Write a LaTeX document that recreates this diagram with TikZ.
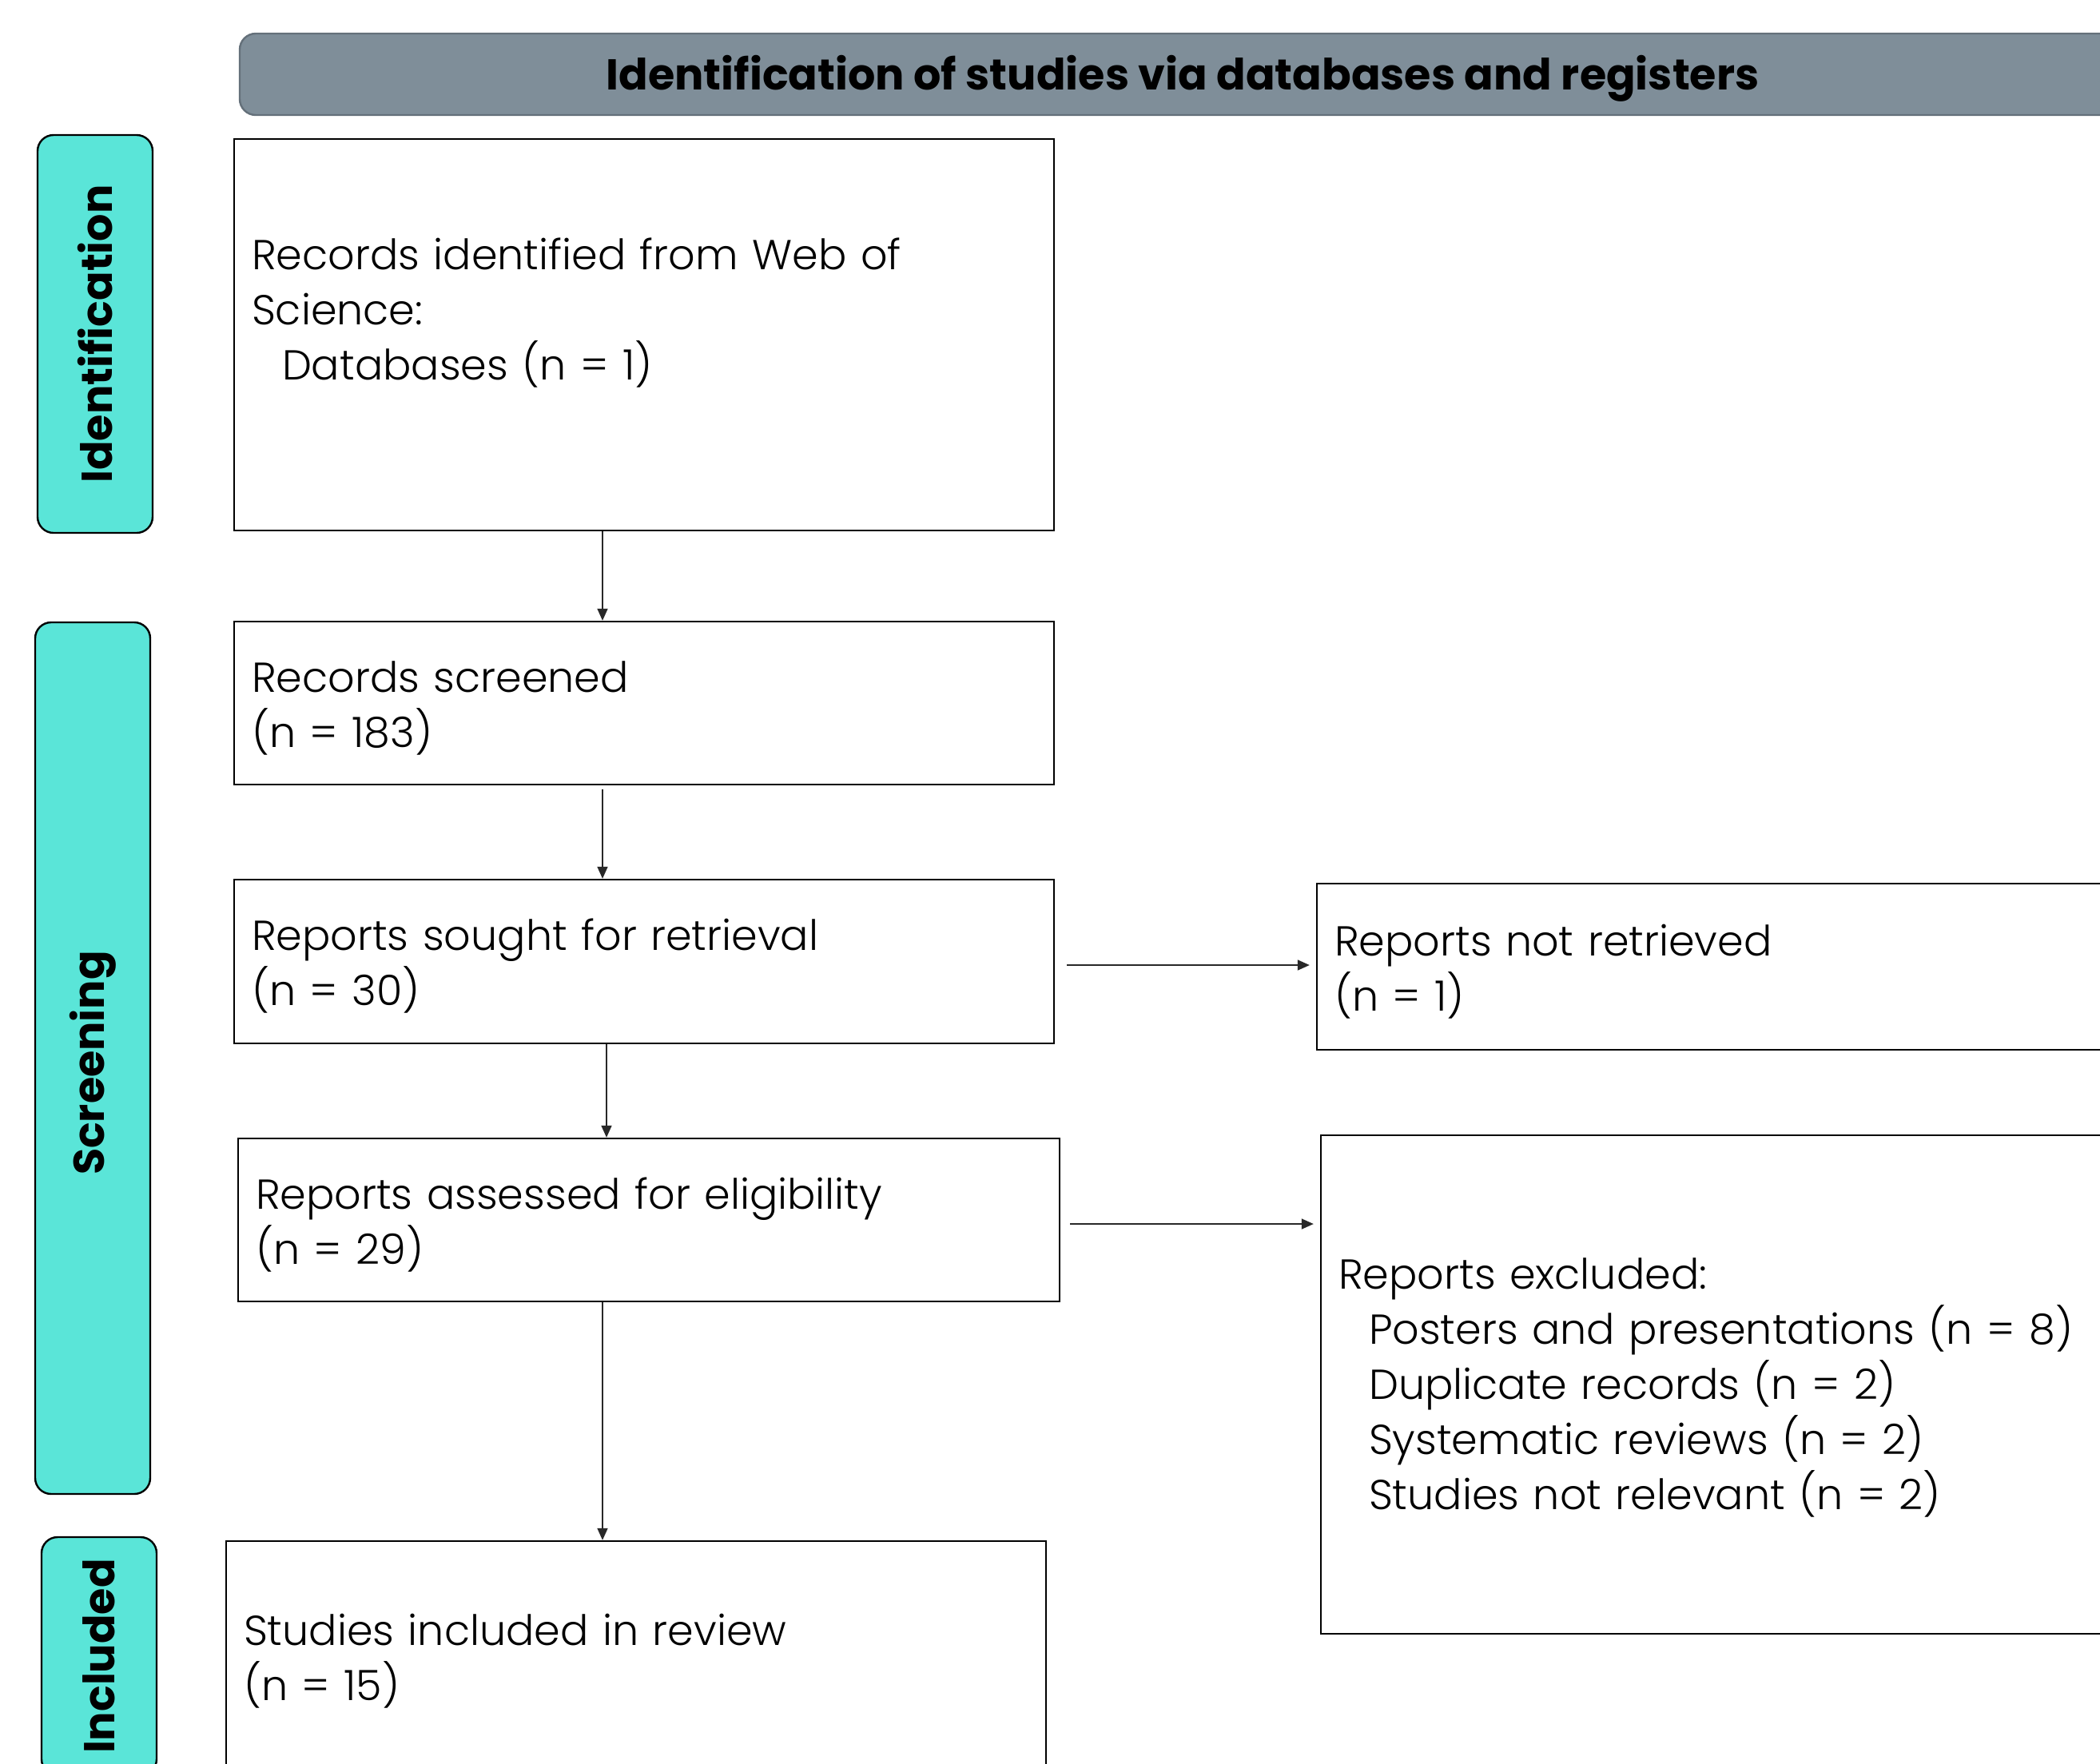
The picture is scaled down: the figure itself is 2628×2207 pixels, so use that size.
\documentclass[tikz,border=0pt]{standalone}
\usepackage{fontspec}
\setmainfont{Poppins Light}[BoldFont={Poppins Bold}]
\usetikzlibrary{arrows.meta}
\definecolor{tq}{RGB}{90,229,216}
\definecolor{hdrfill}{RGB}{127,142,153}
\definecolor{hdrline}{RGB}{100,112,122}
\definecolor{arrowc}{RGB}{40,40,40}
\begin{document}
\begin{tikzpicture}[x=0.5pt,y=-0.5pt,
 box/.style={draw=black, line width=1.2pt, inner sep=0pt},
 boxtext/.style={align=left, inner sep=0pt, font=\fontsize{26.2}{34.5}\selectfont},
 bar/.style={draw=black, line width=1.2pt, fill=tq, rounded corners=10pt, rotate=90, minimum height=72pt, inner sep=0pt, font=\fontsize{27}{32}\selectfont\bfseries},
 header/.style={draw=hdrline, line width=1.2pt, fill=hdrfill, rounded corners=10pt, inner sep=0pt},
 headertext/.style={inner sep=0pt, font=\fontsize{27}{30}\selectfont\bfseries},
 conn/.style={draw=arrowc, line width=0.85pt, -{Triangle[length=7.5pt,width=6.5pt]}},
]
\useasboundingbox (0,0) rectangle (2628,2207);
\clip (0,0) rectangle (2628,2207);
\fill[white] (0,0) rectangle (2628,2207);

\node[header, minimum width=1180pt, minimum height=51pt] (hdr) at (1480,93) {};
\node[headertext] (hdrt) at ([yshift=-2.5pt]hdr.center) {Identification of studies via databases and registers};

\node[bar, minimum width=249pt] (lid) at (119,418) {Identification};
\node[bar, minimum width=545.5pt] (lsc) at (116,1324.5) {\hspace*{-6pt}Screening};
\node[bar, minimum width=149pt] (lin) at (124,2073) {Included};

\node[box, minimum width=513pt, minimum height=245pt] (b1) at (806,419) {};
\node[box, minimum width=513pt, minimum height=102pt] (b2) at (806,880) {};
\node[box, minimum width=513pt, minimum height=102.5pt] (b3) at (806,1203.5) {};
\node[box, minimum width=514pt, minimum height=102pt] (b4) at (812,1527) {};
\node[box, minimum width=513pt, minimum height=144pt] (b5) at (796,2073) {};
\node[box, minimum width=526pt, minimum height=104pt] (b6) at (2174,1210) {};
\node[box, minimum width=526pt, minimum height=312pt] (b7) at (2179,1733) {};

\node[boxtext, text width=491pt] (t1) at ([yshift=-1pt]b1.center) {Records identified from Web of\\Science:\\\hspace*{19pt}Databases (n = 1)\\\mbox{}};
\node[boxtext, text width=491pt] (t2) at ([yshift=-3pt]b2.center) {Records screened\\(n = 183)};
\node[boxtext, text width=491pt] (t3) at ([yshift=-3pt]b3.center) {Reports sought for retrieval\\(n = 30)};
\node[boxtext, text width=492pt] (t4) at ([yshift=-3pt]b4.center) {Reports assessed for eligibility\\(n = 29)};
\node[boxtext, text width=491pt] (t5) at ([yshift=-3pt]b5.center) {Studies included in review\\(n = 15)};
\node[boxtext, text width=504pt] (t6) at ([yshift=-3pt]b6.center) {Reports not retrieved\\(n = 1)};
\node[boxtext, text width=504pt] (t7) at ([yshift=-2pt]b7.center) {Reports excluded:\\\hspace*{19pt}Posters and presentations (n = 8)\\\hspace*{19pt}Duplicate records (n = 2)\\\hspace*{19pt}Systematic reviews (n = 2)\\\hspace*{19pt}Studies not relevant (n = 2)};

\draw[conn] ([xshift=-26pt]b1.south) -- ([xshift=-26pt]b2.north);
\draw[conn] ([xshift=-26pt,yshift=-2.5pt]b2.south) -- ([xshift=-26pt]b3.north);
\draw[conn] ([xshift=-23.5pt]b3.south) -- ([xshift=-23.5pt]b3.south |- b4.north);
\draw[conn] ([xshift=-29pt]b4.south) -- ([xshift=-29pt]b4.south |- b5.north);
\draw[conn] ([xshift=7.5pt,yshift=-2.25pt]b3.east) -- ([xshift=-4pt,yshift=-2.25pt]b3.east -| b6.west);
\draw[conn] ([xshift=6pt,yshift=-2.5pt]b4.east) -- ([xshift=-4pt,yshift=-2.5pt]b4.east -| b7.west);
\end{tikzpicture}
\end{document}
